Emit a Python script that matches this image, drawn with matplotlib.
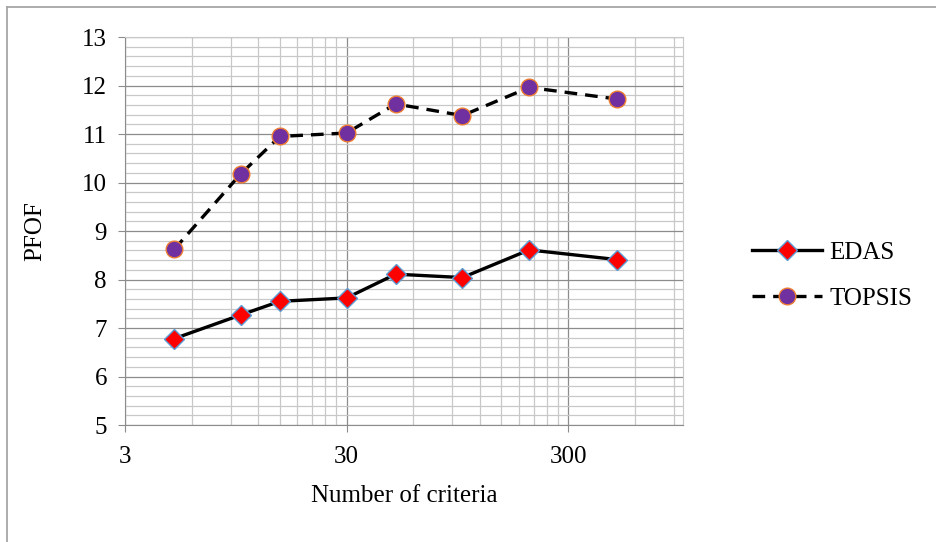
import matplotlib
matplotlib.use("Agg")
import matplotlib.pyplot as plt
from matplotlib.ticker import FixedLocator, MultipleLocator, NullFormatter
from matplotlib.lines import Line2D

# data
criteria = [5, 10, 15, 30, 50, 100, 200, 500]
edas = [6.78, 7.27, 7.55, 7.62, 8.11, 8.04, 8.61, 8.41]
topsis = [8.62, 10.18, 10.95, 11.02, 11.62, 11.38, 11.96, 11.72]
x_ticks = [3, 30, 300]
x_minor = [6, 9, 12, 15, 18, 21, 24, 27, 60, 90, 120, 150, 180, 210, 240, 270, 600, 900]

plt.rcParams['font.family'] = ['Liberation Serif', 'DejaVu Serif']

W, H = 936, 542
fig = plt.figure(figsize=(W / 100, H / 100), dpi=100)
ax = fig.add_axes([125 / W, 1 - 425 / H, (683 - 125) / W, (425 - 37) / H])

# chart border (only top and left edges visible in the original crop)
fig.lines.append(Line2D([6.5 / W, 6.5 / W], [0, 1 - 6.5 / H], transform=fig.transFigure,
                        color='#a6a6a6', linewidth=1.3))
fig.lines.append(Line2D([6.5 / W, 1], [1 - 6.5 / H, 1 - 6.5 / H], transform=fig.transFigure,
                        color='#a6a6a6', linewidth=1.3))

ax.plot(criteria, edas, color='black', linewidth=2.4, marker='D', markersize=10,
        markerfacecolor='#ff0000', markeredgecolor='#5b9bd5', markeredgewidth=1, label='EDAS', zorder=3)
ax.plot(criteria, topsis, color='black', linewidth=2.4, linestyle=(0, (3.8, 2.4)), marker='o', markersize=12,
        markerfacecolor='#7030a0', markeredgecolor='#ed7d31', markeredgewidth=1, label='TOPSIS', zorder=3)

ax.set_xscale('log')
ax.set_xlim(3, 990)
ax.set_ylim(5, 13)
ax.xaxis.set_major_locator(FixedLocator(x_ticks))
ax.xaxis.set_minor_locator(FixedLocator(x_minor))
ax.xaxis.set_major_formatter(plt.FuncFormatter(lambda v, p: f"{v:g}"))
ax.xaxis.set_minor_formatter(NullFormatter())
ax.yaxis.set_major_locator(MultipleLocator(1))
ax.yaxis.set_minor_locator(MultipleLocator(0.2))

ax.grid(which='major', color='#8c8c8c', linewidth=0.9)
ax.grid(which='minor', color='#c8c8c8', linewidth=0.9)
ax.set_axisbelow(True)

for s in ['top', 'right']:
    ax.spines[s].set_color('#c8c8c8')
for s in ['left', 'bottom']:
    ax.spines[s].set_color('#8c8c8c')

ax.tick_params(which='major', direction='out', length=5, color='#8c8c8c', labelsize=18, pad=8)
ax.tick_params(which='minor', length=0)
ax.tick_params(axis='x', pad=10)

ax.set_xlabel('Number of criteria', fontsize=18, labelpad=12)
ax.set_ylabel('PFOF', fontsize=18, labelpad=26)

ax.legend(loc='center left', bbox_to_anchor=(1.105, 0.385), borderaxespad=0, frameon=False, fontsize=18,
          handlelength=2.8, handletextpad=0.32, labelspacing=0.95)

fig.savefig('out.png', dpi=100)
